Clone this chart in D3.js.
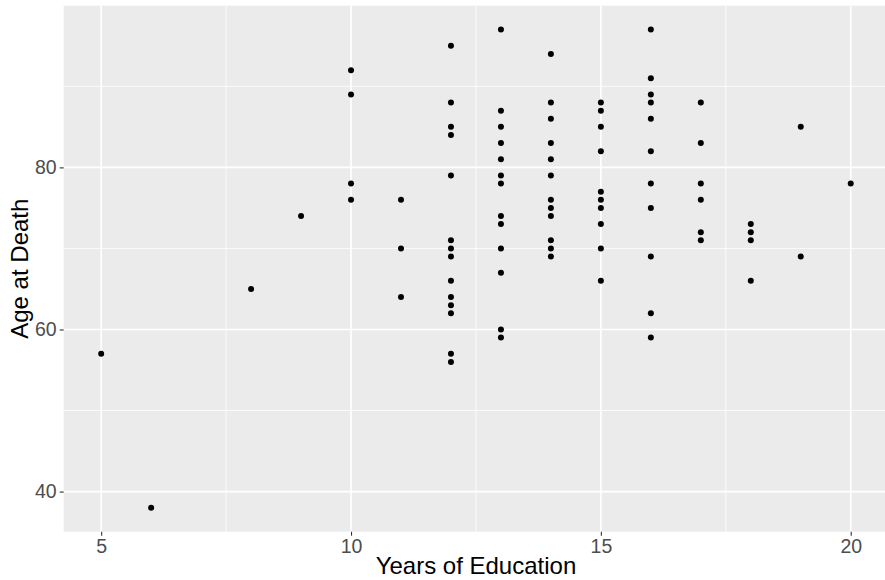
<!DOCTYPE html>
<html>
<head>
<meta charset="utf-8">
<script src="https://cdn.jsdelivr.net/npm/d3@7"></script>
<style>
  html, body { margin: 0; padding: 0; background: #ffffff; }
  svg { display: block; font-family: "Liberation Sans", Arial, sans-serif; }
</style>
</head>
<body>
<svg id="chart" width="885" height="580"></svg>
<script>
// Years of education (x) and age at death (y), one entry per point
const education = [
  5, 6, 8, 9,
  10, 10, 10, 10,
  11, 11, 11,
  12, 12, 12, 12, 12, 12, 12, 12, 12, 12, 12, 12, 12, 12,
  13, 13, 13, 13, 13, 13, 13, 13, 13, 13, 13, 13, 13,
  14, 14, 14, 14, 14, 14, 14, 14, 14, 14, 14, 14,
  15, 15, 15, 15, 15, 15, 15, 15, 15, 15,
  16, 16, 16, 16, 16, 16, 16, 16, 16, 16, 16,
  17, 17, 17, 17, 17, 17,
  18, 18, 18, 18,
  19, 19,
  20
];
const ageAtDeath = [
  57, 38, 65, 74,
  92, 89, 78, 76,
  76, 70, 64,
  95, 88, 85, 84, 79, 71, 70, 69, 66, 64, 63, 62, 57, 56,
  97, 87, 85, 83, 81, 79, 78, 74, 73, 70, 67, 60, 59,
  94, 88, 86, 83, 81, 79, 76, 75, 74, 71, 70, 69,
  88, 87, 85, 82, 77, 76, 75, 73, 70, 66,
  97, 91, 89, 88, 86, 82, 78, 75, 69, 62, 59,
  88, 83, 78, 76, 72, 71,
  73, 72, 71, 66,
  85, 69,
  78
];
const xTicks = [5, 10, 15, 20];
const yTicks = [40, 60, 80];
const xLabel = "Years of Education";
const yLabel = "Age at Death";

const svg = d3.select("#chart");
const panel = { left: 63.7, top: 5.7, right: 888.2, bottom: 531.7 };

// ggplot-style 5% expansion of the data range
const xExt = d3.extent(education), yExt = d3.extent(ageAtDeath);
const xPad = (xExt[1] - xExt[0]) * 0.05, yPad = (yExt[1] - yExt[0]) * 0.05;
const x = d3.scaleLinear().domain([xExt[0] - xPad, xExt[1] + xPad]).range([panel.left, panel.right]);
const y = d3.scaleLinear().domain([yExt[0] - yPad, yExt[1] + yPad]).range([panel.bottom, panel.top]);

const xMinor = xTicks.slice(0, -1).map((d, i) => (d + xTicks[i + 1]) / 2);
const yMinor = yTicks.slice(0, -1).map((d, i) => (d + yTicks[i + 1]) / 2)
  .concat([yTicks[yTicks.length - 1] + (yTicks[1] - yTicks[0]) / 2]);

svg.append("rect")
  .attr("x", panel.left).attr("y", panel.top)
  .attr("width", panel.right - panel.left).attr("height", panel.bottom - panel.top)
  .attr("fill", "#EBEBEB");

const grid = svg.append("g");
grid.selectAll(".ymin").data(yMinor).join("line")
  .attr("x1", panel.left).attr("x2", panel.right)
  .attr("y1", d => y(d)).attr("y2", d => y(d))
  .attr("stroke", "#ffffff").attr("stroke-width", 0.8);
grid.selectAll(".xmin").data(xMinor).join("line")
  .attr("y1", panel.top).attr("y2", panel.bottom)
  .attr("x1", d => x(d)).attr("x2", d => x(d))
  .attr("stroke", "#ffffff").attr("stroke-width", 0.8);
grid.selectAll(".ymaj").data(yTicks).join("line")
  .attr("x1", panel.left).attr("x2", panel.right)
  .attr("y1", d => y(d)).attr("y2", d => y(d))
  .attr("stroke", "#ffffff").attr("stroke-width", 1.6);
grid.selectAll(".xmaj").data(xTicks).join("line")
  .attr("y1", panel.top).attr("y2", panel.bottom)
  .attr("x1", d => x(d)).attr("x2", d => x(d))
  .attr("stroke", "#ffffff").attr("stroke-width", 1.6);

// Axes
const xAxis = svg.append("g")
  .attr("transform", `translate(0,${panel.bottom})`)
  .call(d3.axisBottom(x).tickValues(xTicks).tickSize(4).tickPadding(3).tickFormat(d3.format("d")));
const yAxis = svg.append("g")
  .attr("transform", `translate(${panel.left},0)`)
  .call(d3.axisLeft(y).tickValues(yTicks).tickSize(4).tickPadding(3).tickFormat(d3.format("d")));
[xAxis, yAxis].forEach(a => {
  a.select(".domain").remove();
  a.selectAll(".tick line").attr("stroke", "#333333").attr("stroke-width", 1.1);
  a.selectAll(".tick text").attr("fill", "#4D4D4D").style("font-size", "19.5px")
    .style("font-family", '"Liberation Sans", Arial, sans-serif');
});

// Points
svg.append("g").selectAll("circle")
  .data(education.map((e, i) => [e, ageAtDeath[i]]))
  .join("circle")
  .attr("cx", d => x(d[0])).attr("cy", d => y(d[1]))
  .attr("r", 3).attr("fill", "#000000");

// Axis titles
svg.append("text")
  .attr("x", (panel.left + panel.right) / 2).attr("y", 574)
  .attr("text-anchor", "middle").attr("fill", "#000000")
  .style("font-size", "24px").text(xLabel);
svg.append("text")
  .attr("transform", `translate(28,${(panel.top + panel.bottom) / 2}) rotate(-90)`)
  .attr("text-anchor", "middle").attr("fill", "#000000")
  .style("font-size", "24px").text(yLabel);
</script>
</body>
</html>
